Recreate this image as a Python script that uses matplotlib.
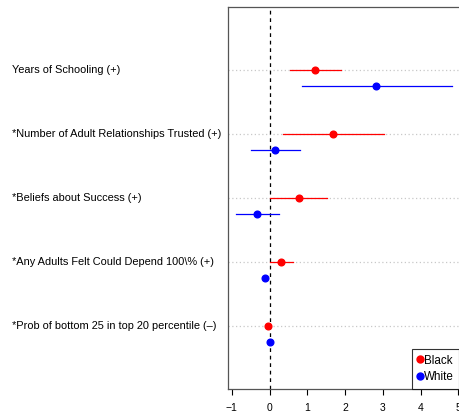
import matplotlib
matplotlib.use("Agg")
import matplotlib.pyplot as plt
from matplotlib.transforms import blended_transform_factory
from matplotlib.lines import Line2D

plt.rcParams['font.family'] = ['Liberation Sans', 'DejaVu Sans']

labels = ["Years of Schooling (+)",
          "*Number of Adult Relationships Trusted (+)",
          "*Beliefs about Success (+)",
          "*Any Adults Felt Could Depend 100\\% (+)",
          "*Prob of bottom 25 in top 20 percentile (\u2013)"]
black_est = [1.21, 1.68, 0.77, 0.31, -0.03]
black_lo = [0.53, 0.35, 0.00, 0.00, -0.06]
black_hi = [1.88, 3.03, 1.53, 0.62, 0.00]
white_est = [2.83, 0.15, -0.34, -0.13, 0.02]
white_lo = [0.86, -0.49, -0.90, -0.18, 0.00]
white_hi = [4.82, 0.80, 0.24, -0.08, 0.04]
xticks = [-1, 0, 1, 2, 3, 4, 5]

fig = plt.figure(figsize=(4.6, 4.2), dpi=100)
ax = fig.add_axes([228/460, 31/420, 231.5/460, 382/420])

n = len(labels)
ypos = [n - i for i in range(n)]
off = 0.25

for i, y in enumerate(ypos):
    ax.axhline(y, color='#c8c8c8', lw=0.9, ls=(0, (1, 2)), zorder=0)
    ax.plot([black_lo[i], black_hi[i]], [y, y], color='red', lw=0.9, zorder=2)
    ax.plot(black_est[i], y, 'o', color='red', ms=4.8, zorder=3)
    ax.plot([white_lo[i], white_hi[i]], [y - off, y - off], color='blue', lw=0.9, zorder=2)
    ax.plot(white_est[i], y - off, 'o', color='blue', ms=4.8, zorder=3)

ax.axvline(0, color='black', lw=0.9, ls=(0, (3, 3)), zorder=1)

ax.set_xlim(-1.1, 5.03)
ax.set_ylim(1 - 63/64, 5 + 63/64)
ax.set_yticks([])
ax.set_xticks(xticks)
ax.set_xticklabels(["\u22121" if t == -1 else str(t) for t in xticks])
ax.tick_params(axis='x', labelsize=7.5, length=4, width=0.8, color='black', pad=6)
for s in ax.spines.values():
    s.set_color('#555555')
    s.set_linewidth(0.9)

tr = blended_transform_factory(fig.transFigure, ax.transData)
for i, y in enumerate(ypos):
    fig.text(12/460, y, labels[i], transform=tr, ha='left', va='center', fontsize=7.9)

handles = [Line2D([], [], marker='o', color='red', ls='none', ms=5, label='Black'),
           Line2D([], [], marker='o', color='blue', ls='none', ms=5, label='White')]
leg = ax.legend(handles=handles, loc='lower right', fontsize=8.4, frameon=True,
                fancybox=False, borderaxespad=0, handlelength=0.4, handletextpad=0.15,
                borderpad=0.5, labelspacing=0.4)
leg.get_frame().set_edgecolor('black')
leg.get_frame().set_linewidth(0.8)

fig.savefig("out.png", dpi=100)
